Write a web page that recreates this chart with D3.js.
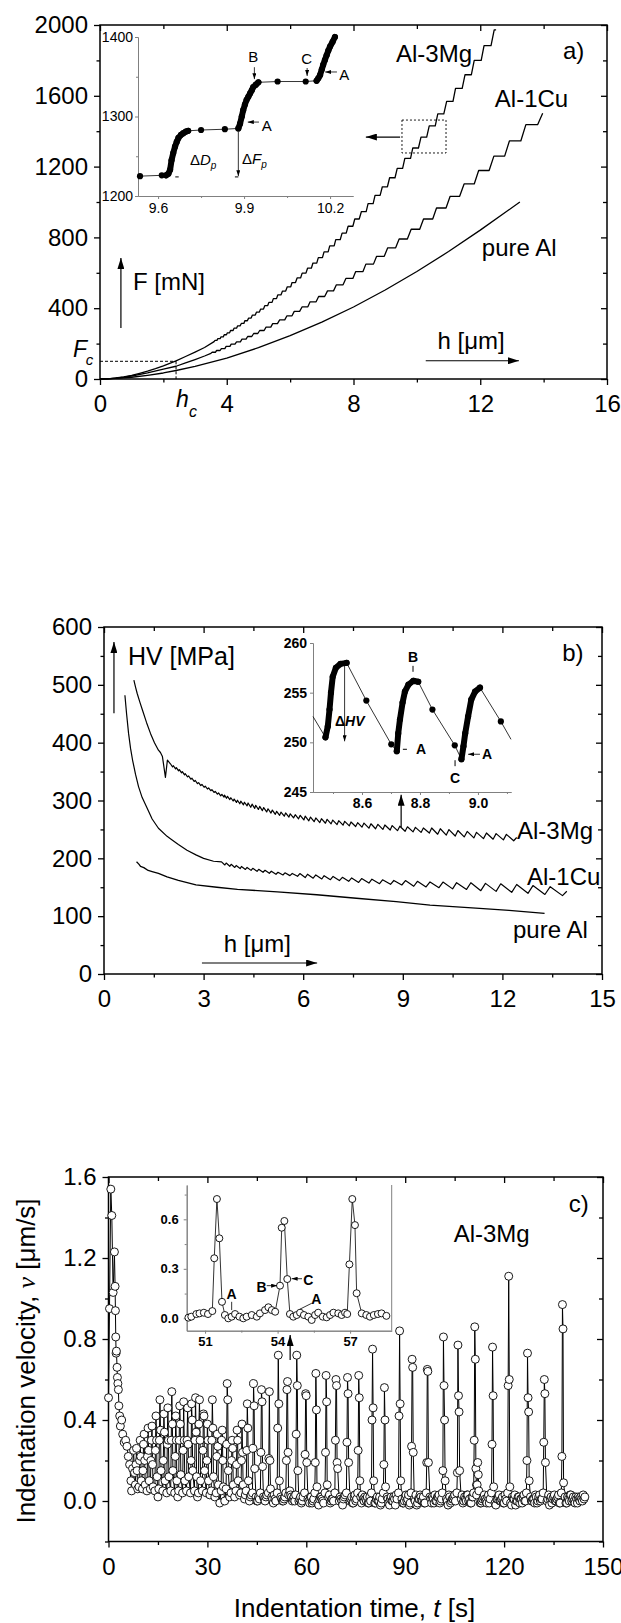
<!DOCTYPE html>
<html>
<head>
<meta charset="utf-8">
<script src="https://cdn.jsdelivr.net/npm/d3@7/dist/d3.min.js"></script>
<style>
  body { margin: 0; background: #fff; }
  svg { display: block; }
</style>
</head>
<body>
<div id="chart"></div>
<script>
// ---------------- a) load F [mN] vs depth h [um] ----------------
var pureAlF = [[0,0],[0.5,3],[1,10],[1.5,21],[2,34],[2.4,48],[3,71],[4,118],[5,177],[6,245],[7,321],[8,407],[9,503],[10,607],[11,720],[12,841],[13.25,1000]];

var cuFStart = [[0,0],[0.25,1],[0.5,5],[0.75,10],[1,17],[1.5,34],[2,56],[2.4,72],[2.7,91],[3,110],[3.3,130],[3.5,145]];
// plateaus: [h start, h end, F]
var cuFSteps = [[3.54,3.64,151],[3.68,3.79,161],[3.83,3.94,172],[3.98,4.10,184],[4.14,4.26,197],[4.31,4.43,210],
  [4.48,4.61,225],[4.66,4.79,240],[4.85,4.98,257],[5.04,5.18,274],[5.24,5.39,293],[5.45,5.60,313],[5.67,5.83,334],
  [5.90,6.06,357],[6.13,6.30,382],[6.38,6.56,408],[6.63,6.82,436],[6.90,7.09,466],[7.18,7.37,498],[7.46,7.67,532],
  [7.76,7.98,568],[8.07,8.30,607],[8.39,8.63,649],[8.73,8.97,693],[9.08,9.33,741],[9.44,9.70,791],[9.82,10.09,846],
  [10.21,10.50,904],[10.62,10.92,966],[11.05,11.35,1032],[11.49,11.81,1102],[11.95,12.28,1178],[12.43,12.77,1259],
  [12.92,13.28,1345],[13.44,13.81,1437]];
var cuFEnd = [13.97,1501];

var mgFStart = [[0,0],[0.25,1],[0.5,6],[0.75,12],[1,21],[1.25,32],[1.5,44],[1.75,58],[2,74],[2.4,102],[2.7,127],[3,152],[3.3,178],[3.6,211]];
var mgFSteps = [[3.63,3.69,218],[3.72,3.79,228],[3.82,3.89,238],[3.92,3.99,250],[4.02,4.09,261],[4.12,4.20,274],
  [4.23,4.31,287],[4.34,4.42,300],[4.46,4.54,314],[4.57,4.65,329],[4.69,4.77,344],[4.81,4.90,361],[4.94,5.03,378],
  [5.07,5.16,395],[5.20,5.29,414],[5.33,5.43,433],[5.47,5.57,454],[5.61,5.71,475],[5.76,5.86,497],[5.91,6.02,521],
  [6.06,6.17,545],[6.22,6.33,571],[6.38,6.50,598],[6.55,6.67,626],[6.72,6.84,655],[6.89,7.02,686],[7.07,7.20,718],
  [7.25,7.39,752],[7.44,7.58,787],[7.64,7.77,824],[7.83,7.98,863],[8.04,8.18,904],[8.25,8.40,946],[8.46,8.62,991],
  [8.68,8.84,1037],[8.91,9.07,1086],[9.14,9.31,1137],[9.38,9.55,1190],[9.62,9.80,1246],[9.87,10.05,1305],
  [10.13,10.31,1366],[10.39,10.58,1430],[10.66,10.85,1498],[10.94,11.14,1568],[11.22,11.43,1642],[11.52,11.72,1719],
  [11.81,12.03,1800],[12.12,12.34,1884],[12.44,12.50,1973]];

// inset a: zoom of the Al-3Mg staircase (h, F)
var insetASegs = [
  ["dots", [[9.537,1225],[9.613,1226]]],
  ["rise", [[9.628,1226],[9.636,1228],[9.642,1233],[9.647,1245],[9.653,1254],[9.659,1262],[9.665,1268],[9.671,1273],[9.68,1277],[9.688,1279],[9.697,1281],[9.705,1282]]],
  ["dots", [[9.75,1283],[9.833,1284]]],
  ["rise", [[9.88,1285],[9.886,1291],[9.892,1300],[9.897,1308],[9.903,1315],[9.909,1321],[9.915,1325],[9.921,1329],[9.927,1333],[9.932,1337],[9.941,1340],[9.95,1343]]],
  ["dots", [[10.017,1344],[10.115,1344]]],
  ["rise", [[10.153,1345],[10.159,1348],[10.165,1352],[10.171,1359],[10.176,1365],[10.182,1371],[10.188,1377],[10.194,1383],[10.2,1388],[10.209,1394],[10.217,1400]]]
];

// ---------------- b) hardness HV [MPa] vs depth ----------------
var pureAlHV = [[0.98,194],[1.05,190],[1.1,186],[1.2,184],[1.33,179],[1.45,177],[1.64,174],[1.9,168],[2.24,162],[2.77,154],
  [3.4,150],[4.02,146.5],[5.22,142],[6.41,137],[7.6,131],[8.8,125],[9.82,119],[11.2,114],[12.2,110],[13.27,105]];

var cuHVStart = [[0.63,482],[0.68,450],[0.74,416],[0.8,390],[0.86,370],[0.95,345],[1.04,324],[1.15,305],[1.28,289],[1.45,268],
  [1.64,252],[1.9,238],[2.0,234],[2.24,224],[2.5,214],[2.77,206],[3.0,200],[3.3,195]];
// teeth: [h peak, HV peak, h trough, HV trough]
var cuHVTeeth = [[3.54,193.9,3.64,188.5],[3.68,191.9,3.79,186.3],[3.83,189.7,3.94,184.2],[3.98,187.6,4.10,182.3],
  [4.14,185.9,4.26,180.8],[4.31,184.3,4.43,179.2],[4.48,182.8,4.61,177.6],[4.66,181.1,4.79,175.9],[4.85,179.4,4.98,174.2],
  [5.04,177.7,5.18,172.4],[5.24,175.9,5.39,171.2],[5.45,174.9,5.60,170.1],[5.67,173.8,5.83,169.0],[5.90,173.6,6.06,166.8],
  [6.13,172.5,6.30,165.6],[6.38,171.2,6.56,164.3],[6.63,170.0,6.82,163.0],[6.90,168.6,7.09,161.6],[7.18,167.2,7.37,160.2],
  [7.46,166.2,7.67,158.3],[7.76,165.0,7.98,157.2],[8.07,163.9,8.30,156.2],[8.39,162.9,8.63,155.1],[8.73,161.7,8.97,153.9],
  [9.08,161.5,9.33,151.7],[9.44,160.3,9.70,150.5],[9.82,159.1,10.09,149.3],[10.21,159.0,10.50,147.2],[10.62,157.9,10.92,146.2],
  [11.05,157.8,11.35,144.1],[11.49,156.7,11.81,142.9],[11.95,156.0,12.28,141.2],[12.43,154.8,12.77,139.5],
  [12.92,152.9,13.28,137.5],[13.44,151.0,13.81,135.5]];
var cuHVEnd = [13.94,143];

var mgHVStart = [[0.9,508],[0.95,496],[1.0,485],[1.08,470],[1.16,456],[1.28,435],[1.4,416],[1.52,400],[1.64,387],[1.7,383],
  [1.76,376],[1.85,340],[1.91,370]];
var mgHVTeeth = [[2.00,363.5,2.065,358],[2.09,360.1,2.155,354.6],[2.18,356.8,2.245,351.3],[2.27,353.3,2.335,347.8],
  [2.36,349.8,2.425,344.3],[2.45,346.3,2.515,340.8],[2.55,342.4,2.615,336.9],[2.65,338.5,2.715,333],[2.75,334.6,2.815,329.1],
  [2.85,330.9,2.915,325.9],[2.95,327.9,3.015,322.9],[3.05,324.9,3.115,319.9],[3.15,321.9,3.215,316.9],[3.25,318.9,3.315,313.9],
  [3.35,315.9,3.415,310.9],[3.45,313,3.515,308],[3.55,310.7,3.615,305.7],
  [3.63,309.3,3.69,303.9],[3.72,307.2,3.79,301.6],[3.82,304.8,3.89,299.1],[3.92,302.4,3.99,296.7],[4.02,300.5,4.09,294.3],
  [4.12,298.8,4.20,292.5],[4.23,297.0,4.31,290.7],[4.34,295.7,4.42,288.3],[4.46,293.7,4.54,286.3],[4.57,291.8,4.65,284.5],
  [4.69,289.8,4.77,282.5],[4.81,287.8,4.90,280.3],[4.94,285.7,5.03,278.2],[5.07,283.5,5.16,276.0],[5.20,281.3,5.29,274.3],
  [5.33,279.9,5.43,272.8],[5.47,278.4,5.57,271.4],[5.61,277.0,5.71,270.0],[5.76,275.5,5.86,268.4],[5.91,274.4,6.02,266.3],
  [6.06,272.9,6.17,264.8],[6.22,271.3,6.33,263.3],[6.38,269.8,6.50,261.9],[6.55,268.5,6.67,260.7],[6.72,267.4,6.84,259.6],
  [6.89,266.2,7.02,258.4],[7.07,265.1,7.20,257.3],[7.25,264.0,7.39,256.2],[7.44,262.9,7.58,255.0],[7.64,261.7,7.77,253.9],
  [7.83,261.0,7.98,252.1],[8.04,259.8,8.18,251.1],[8.25,258.8,8.40,250.0],[8.46,257.7,8.62,248.9],[8.68,256.6,8.84,247.8],
  [8.91,255.5,9.07,246.8],[9.14,254.5,9.31,245.8],[9.38,253.5,9.55,244.8],[9.62,252.5,9.80,243.8],[9.87,252.5,10.05,241.7],
  [10.13,251.2,10.31,240.2],[10.39,249.7,10.58,238.6],[10.66,248.1,10.85,237.0],[10.94,246.5,11.14,235.3],
  [11.22,244.9,11.43,234.1],[11.52,243.8,11.72,233.1],[11.81,242.7,12.03,231.9],[12.12,241.4,12.34,230.4]];
var mgHVEnd = [12.43,236];

// inset b (h, HV)
var insetBSegs = [
  ["line", [[8.431,252.6]]],
  ["rise", [[8.474,250.5],[8.482,251.6],[8.488,253.3],[8.493,255.0],[8.499,256.6],[8.51,257.5],[8.526,257.9],[8.547,258.0]]],
  ["dots", [[8.615,254.2],[8.701,249.8]]],
  ["rise", [[8.72,249.1],[8.725,250.9],[8.731,252.3],[8.74,254.0],[8.748,255.1],[8.76,255.8],[8.777,256.2],[8.794,256.1]]],
  ["dots", [[8.843,253.3],[8.92,249.7]]],
  ["rise", [[8.943,248.3],[8.95,249.6],[8.956,250.9],[8.966,252.6],[8.977,254.3],[8.99,255.1],[9.007,255.5]]],
  ["dots", [[9.079,252.1]]],
  ["line", [[9.114,250.3]]]
];

// ---------------- c) indentation velocity v [um/s] vs time t [s] ----------------
var velDecay = [[0,.51],[0.3,.95],[0.7,1.54],[1.0,1.41],[1.4,1.03],[1.8,1.23],[2.0,1.06],[2.1,.94],[2.2,.81],[2.3,.73],
  [2.4,.74],[2.6,.66],[2.7,.61],[2.85,.58],[3.0,.55],[3.15,.47],[3.4,.42],[3.6,.37],[4.0,.40],[4.3,.33],[4.8,.29],
  [5.2,.30],[5.6,.27],[6.0,.22],[6.4,.18],[6.8,.10],[7.0,.05],[7.3,.16],[7.6,.25],[7.9,.14]];
var sampleDt = 0.17;
// spikes: [time of peak, consecutive samples]
var earlySpikes = [[8.5,[.08,.18,.26,.15,.06]],[9.6,[.07,.2,.3,.22,.1]],[10.8,[.06,.15,.28,.33,.2,.08]],[12.0,[.05,.22,.36,.25,.1]],
  [13.2,[.06,.2,.3,.37,.18,.07]],[14.4,[.05,.25,.42,.3,.12]],[15.6,[.06,.3,.5,.35,.15]],[16.8,[.05,.2,.43,.34,.1]],
  [18.0,[.04,.28,.46,.3,.12]],[19.2,[.05,.3,.54,.38,.15]],[20.4,[.04,.22,.42,.3,.1]],[21.6,[.05,.3,.47,.38,.13]],
  [22.8,[.04,.25,.49,.3,.1]],[24.0,[.05,.3,.46,.28,.12]],[25.2,[.04,.2,.48,.4,.15]],[26.4,[.05,.3,.51,.34,.12]],
  [27.6,[.04,.38,.5,.3,.1]],[28.8,[.05,.25,.43,.42,.15]],[30.0,[.04,.2,.38,.3,.1]],[31.5,[.05,.3,.5,.36,.12]],
  [33.0,[.04,.22,.33,.27,.08]],[34.5,[.05,.3,.35,.2,.07]],[36.0,[.06,.28,.58,.5,.15]],[37.5,[.04,.2,.3,.26,.08]],
  [39.0,[.05,.18,.35,.3,.1]],[40.5,[.04,.2,.38,.24,.08]],[42.1,[.05,.25,.48,.36,.1]]];
var mainSpikes = [[44.0,[.04,.26,.58,.47,.16]],[46.4,[.04,.24,.55,.49,.17]],[48.8,[.04,.21,.54,.2,.06]],
  [51.5,[.04,.36,.72,.48,.10]],[54.3,[.04,.2,.55,.59,.24,.03]],[57.1,[.03,.33,.72,.57,.15]],[59.8,[.04,.23,.53,.52,.19]],
  [62.9,[.04,.19,.63,.45,.07]],[66.0,[.04,.24,.62,.49,.08]],[69.0,[.04,.3,.6,.57,.19,.16]],[72.5,[.04,.29,.61,.53,.19]],
  [75.9,[.04,.25,.62,.51,.1]],[80.1,[.04,.4,.75,.46,.1]],[83.7,[.04,.18,.56,.4,.07]],[88.3,[.04,.42,.84,.48,.1]],
  [92.1,[.04,.27,.7,.66,.24]],[96.7,[.04,.19,.65,.64,.19]],[101.6,[.04,.15,.81,.57,.4,.1]],[106.0,[.04,.14,.77,.52,.44,.15]],
  [111.1,[.04,.3,.86,.7,.16,.08]],[112.0,[.03,.08,.19,.13,.05]],[116.5,[.04,.28,.76,.52,.07]],[121.4,[.04,.57,1.11,.6,.07]],
  [127.1,[.04,.2,.73,.51,.44,.1]],[132.2,[.04,.29,.6,.53,.19]],[137.7,[.04,.22,.97,.85,.09]]];
// baseline between events: two interleaved runs every 0.5 s (from t = 8 s and t = 8.25 s)
var baseStart = 8, baseStep = 0.5;
var baseV = [.10,.08,.09,.06,.07,.05,.06,.04,.05,.03,.04,.03,.02,.04,.02,.03,.01,.03,.02,.04,
  .02,.01,.03,.02,.04,.01,.02,.03,.01,.02,.04,.02,.01,.03,.02,.00,.03,.01,.02,.04,
  .02,.01,.03,.00,.02,.01,.03,.02,.00,.02,.03,.01,.02,.00,.03,.01,.02,.03,.00,.02,
  .01,.03,.00,.02,.01,-.01,.02,.03,.00,.01,.02,-.01,.01,.03,.00,.02,.01,-.01,.02,.00,
  .03,.01,.00,.02,-.01,.01,.03,.00,.02,.01,.00,.02,.04,.06,.05,.02,.01,.00,.02,.03,
  .01,-.01,.02,.00,.03,.01,-.01,.02,.00,.01,.03,-.01,.01,.02,.00,-.02,.02,.01,.03,.00,
  .01,-.01,.02,.03,.00,.01,-.02,.02,.01,.00,.03,.01,-.01,.02,.00,.01,-.02,.02,.03,.00,
  .01,.02,-.01,.00,.03,.01,-.01,.02,.00,-.02,.01,.03,.00,.02,-.01,.01,.00,.02,-.02,.01,
  .03,.00,.01,-.01,.02,.00,.03,-.01,.01,.02,.00,-.02,.01,.03,.00,.02,-.01,.01,.00,.02,
  -.01,.01,.03,.00,.02,-.01,.01,.00,.03,.01,-.02,.02,.00,.01,.03,-.01,.02,.00,.01,-.01,
  .02,.00,.03,.01,-.01,.02,.04,.01,.00,.02,-.01,.01,.03,.00,.02,-.01,.01,.00,.02,-.02,
  .01,.03,.00,.02,-.01,.01,.00,.03,-.01,.02,.01,-.02,.00,.02,.01,-.01,.03,.00,.01,-.01,
  .02,.00,.01,.03,-.01,.02,.00,.01,-.02,.02,.00,.03,.01,-.01,.02,.00,.01,.03,-.01,.01,
  .00,.02,-.01,.01,.03,.00,.02,-.01,.01,.02,.00,.01,.03,.02];
var baseStart2 = 8.25;
var baseV2 = [.09,.07,.08,.05,.06,.04,.05,.03,.04,.02,.03,.02,.03,.01,.02,.03,.00,.02,.01,.03,
  .01,.02,.00,.03,.01,.02,-.01,.01,.03,.00,.02,.01,.03,.00,.01,.02,-.01,.02,.00,.01,
  .03,.00,.01,.02,-.01,.03,.00,.01,.02,.00,.01,-.01,.02,.03,.00,.01,-.01,.02,.01,.00,
  .02,-.01,.01,.03,.00,.02,.01,-.02,.01,.00,.03,.01,-.01,.02,.00,.01,.03,-.01,.01,.02,
  .00,.02,-.01,.01,.03,.00,.01,-.02,.02,.00,.01,.03,.05,.04,.03,.00,.02,-.01,.01,.00,
  .02,.00,-.01,.03,.01,.00,.02,-.01,.01,.03,.00,-.02,.02,.01,-.01,.03,.00,.02,-.01,.01,
  .00,.02,.01,-.02,.02,.00,.01,.03,-.01,.01,.00,.02,-.01,.03,.01,.00,.02,-.01,.01,.02,
  .00,-.01,.02,.01,.03,-.01,.01,.00,.02,-.01,.02,.00,.03,.01,-.02,.02,.00,.01,.03,-.01,
  .01,.02,-.01,.00,.03,.01,-.02,.02,.00,.01,.03,-.01,.01,.02,.00,-.01,.02,.03,.00,.01,
  .02,-.01,.00,.02,.03,.00,-.01,.02,.01,.00,.03,-.01,.01,.02,.00,.02,-.02,.01,.03,.00,
  .01,.03,.00,-.01,.02,.01,.03,.00,.02,-.01,.00,.02,.01,-.01,.03,.01,.00,.02,-.01,.01,
  .02,.00,.01,-.01,.03,.00,.02,.01,-.02,.01,.03,.00,.02,-.01,.01,.02,.00,-.01,.02,.03,
  .00,.01,-.01,.02,.00,.03,.01,-.01,.02,.00,.01,-.02,.02,.01,.03,.00,.02,-.01,.00,.02,
  .01,-.01,.02,.00,.03,.01,.00,.02,-.01,.01,.02,.00,.01];

// inset c (t, v)
var insetCPts = [[50.31,.004],[50.43,.01],[50.64,.026],[50.77,.03],[50.95,.034],[51.12,.026],
  [51.3,.044],[51.38,.364],[51.49,.723],[51.59,.485],[51.7,.10],[51.82,.02],
  [51.96,0],[52.1,.01],[52.24,.026],[52.42,.01],[52.58,0],[52.72,.01],[52.93,.02],[53.14,.01],[53.27,.03],[53.48,.05],[53.62,.067],[53.76,.05],[53.9,.04],
  [54.1,.198],[54.17,.549],[54.28,.59],[54.4,.238],[54.51,.026],
  [54.65,.01],[54.79,.02],[54.93,.034],[55.09,.02],[55.27,.01],[55.41,-.01],[55.55,.02],[55.68,.034],[55.87,.01],[56.03,.006],[56.17,.02],[56.31,.034],[56.51,.03],[56.65,.02],[56.79,.034],
  [56.88,.026],[56.97,.327],[57.09,.723],[57.2,.565],[57.27,.152],[57.48,.03],
  [57.67,.02],[57.82,.01],[57.98,.02],[58.15,.026],[58.3,.03],[58.5,.015]];

// ---------------- drawing ----------------
var FONT = '"Liberation Sans", Arial, sans-serif';
var svg = d3.select("#chart").append("svg").attr("width", 621).attr("height", 1623)
  .attr("font-family", FONT);
svg.append("rect").attr("width", 621).attr("height", 1623).attr("fill", "#fff");

var defs = svg.append("defs");
function marker(id, w, h) {
  defs.append("marker").attr("id", id)
    .attr("viewBox", "0 0 10 10").attr("refX", 10).attr("refY", 5)
    .attr("markerWidth", w).attr("markerHeight", h)
    .attr("markerUnits", "userSpaceOnUse").attr("orient", "auto")
    .attr("preserveAspectRatio", "none")
    .append("path").attr("d", "M0,0L10,5L0,10z").attr("fill", "#000");
}
marker("arr", 11, 7);
marker("arrS", 6, 4);

var none = function() { return ""; };

function mainAxes(g, x, y, o) {
  var xl = x.range()[0], xr = x.range()[1], yb = y.range()[0], yt = y.range()[1];
  function style(sel) {
    sel.select(".domain").remove();
    sel.attr("font-family", FONT).attr("font-size", 24);
    sel.selectAll(".tick line").attr("stroke", "#000").attr("stroke-width", 1.3);
    sel.selectAll(".tick text").attr("fill", "#000");
  }
  g.append("g").attr("transform", "translate(0," + yb + ")")
    .call(d3.axisBottom(x).tickValues(o.xMajor).tickFormat(o.xFmt).tickSizeInner(6).tickSizeOuter(0).tickPadding(10)).call(style);
  g.append("g").attr("transform", "translate(0," + yb + ")")
    .call(d3.axisBottom(x).tickValues(o.xMinor).tickFormat(none).tickSizeInner(3.5).tickSizeOuter(0)).call(style);
  g.append("g").attr("transform", "translate(" + xl + ",0)")
    .call(d3.axisLeft(y).tickValues(o.yMajor).tickFormat(o.yFmt).tickSizeInner(6).tickSizeOuter(0).tickPadding(6)).call(style);
  g.append("g").attr("transform", "translate(" + xl + ",0)")
    .call(d3.axisLeft(y).tickValues(o.yMinor).tickFormat(none).tickSizeInner(3.5).tickSizeOuter(0)).call(style);
  [[o.xMajor, 6], [o.xMinor, 4]].forEach(function(t) {
    g.append("g").attr("transform", "translate(0," + yt + ")")
      .call(d3.axisTop(x).tickValues(t[0]).tickFormat(none).tickSizeInner(-t[1]).tickSizeOuter(0)).call(style);
  });
  [[o.yMajor, 6], [o.yMinor, 4]].forEach(function(t) {
    g.append("g").attr("transform", "translate(" + xr + ",0)")
      .call(d3.axisRight(y).tickValues(t[0]).tickFormat(none).tickSizeInner(-t[1]).tickSizeOuter(0)).call(style);
  });
  g.append("rect").attr("x", xl).attr("y", yt).attr("width", xr - xl).attr("height", yb - yt)
    .attr("fill", "none").attr("stroke", "#000").attr("stroke-width", 1.5);
}

function insetAxes(g, x, y, o) {
  function style(sel) {
    sel.select(".domain").attr("stroke", "#808080").attr("stroke-width", 1);
    sel.attr("font-family", FONT).attr("font-size", o.fs).attr("font-weight", o.fw);
    sel.selectAll(".tick line").attr("stroke", "#808080");
    sel.selectAll(".tick text").attr("fill", "#000");
  }
  var yb = y.range()[0], xl = x.range()[0];
  g.append("g").attr("transform", "translate(0," + yb + ")")
    .call(d3.axisBottom(x).tickValues(o.xMajor).tickFormat(o.xFmt).tickSizeInner(3).tickSizeOuter(0).tickPadding(o.padX)).call(style);
  g.append("g").attr("transform", "translate(0," + yb + ")")
    .call(d3.axisBottom(x).tickValues(o.xMinor).tickFormat(none).tickSizeInner(2).tickSizeOuter(0)).call(style);
  g.append("g").attr("transform", "translate(" + xl + ",0)")
    .call(d3.axisLeft(y).tickValues(o.yMajor).tickFormat(o.yFmt).tickSizeInner(3).tickSizeOuter(0).tickPadding(o.padY)).call(style);
  g.append("g").attr("transform", "translate(" + xl + ",0)")
    .call(d3.axisLeft(y).tickValues(o.yMinor).tickFormat(none).tickSizeInner(2).tickSizeOuter(0)).call(style);
  if (o.right) {
    g.append("line").attr("x1", x.range()[1]).attr("x2", x.range()[1])
      .attr("y1", y.range()[0]).attr("y2", y.range()[1]).attr("stroke", "#808080");
  }
}

function text(g, x, y, str, o) {
  o = o || {};
  return g.append("text").attr("x", x).attr("y", y).attr("font-size", o.fs || 24)
    .attr("font-weight", o.fw || "normal").attr("font-style", o.fst || "normal")
    .attr("text-anchor", o.anchor || "start").attr("fill", "#000").text(str);
}
function arrow(g, x1, y1, x2, y2, small) {
  g.append("line").attr("x1", x1).attr("y1", y1).attr("x2", x2).attr("y2", y2)
    .attr("stroke", "#000").attr("stroke-width", small ? 0.8 : 1.2)
    .attr("marker-end", small ? "url(#arrS)" : "url(#arr)");
}
function plain(g, x1, y1, x2, y2, w, dash) {
  g.append("line").attr("x1", x1).attr("y1", y1).attr("x2", x2).attr("y2", y2)
    .attr("stroke", "#000").attr("stroke-width", w || 0.8).attr("stroke-dasharray", dash || null);
}
function curve(g, x, y, pts, w) {
  g.append("path").datum(pts).attr("fill", "none").attr("stroke", "#000").attr("stroke-width", w || 1.3)
    .attr("stroke-linejoin", "round")
    .attr("d", d3.line().x(function(d) { return x(d[0]); }).y(function(d) { return y(d[1]); }));
}
function stairs(start, steps, end) {
  var pts = start.slice();
  steps.forEach(function(s) { pts.push([s[0], s[2]], [s[1], s[2]]); });
  if (end) pts.push(end);
  return pts;
}
function teeth(start, rows, end) {
  var pts = start.slice();
  rows.forEach(function(r) { pts.push([r[0], r[1]], [r[2], r[3]]); });
  if (end) pts.push(end);
  return pts;
}
function insetSeries(g, x, y, segs) {
  var all = [];
  segs.forEach(function(s) { all = all.concat(s[1]); });
  curve(g, x, y, all, 0.8);
  segs.forEach(function(s) {
    if (s[0] === "rise") {
      g.append("path").datum(s[1]).attr("fill", "none").attr("stroke", "#000").attr("stroke-width", 6)
        .attr("stroke-linecap", "round").attr("stroke-linejoin", "round")
        .attr("d", d3.line().x(function(d) { return x(d[0]); }).y(function(d) { return y(d[1]); }));
    }
    if (s[0] !== "line") {
      g.selectAll(null).data(s[1]).enter().append("circle")
        .attr("cx", function(d) { return x(d[0]); }).attr("cy", function(d) { return y(d[1]); })
        .attr("r", 3.1).attr("fill", "#000");
    }
  });
}

// ================= panel a =================
var ga = svg.append("g");
var xa = d3.scaleLinear().domain([0, 16]).range([100, 607]);
var ya = d3.scaleLinear().domain([0, 2000]).range([379, 25]);
mainAxes(ga, xa, ya, {
  xMajor: [0, 4, 8, 12, 16], xMinor: [2, 6, 10, 14], xFmt: d3.format("d"),
  yMajor: [0, 400, 800, 1200, 1600, 2000], yMinor: [200, 600, 1000, 1400, 1800], yFmt: d3.format("d")
});
curve(ga, xa, ya, pureAlF);
curve(ga, xa, ya, stairs(cuFStart, cuFSteps, cuFEnd));
curve(ga, xa, ya, stairs(mgFStart, mgFSteps, null));

// F_c / h_c guide
plain(ga, xa(0), ya(100), xa(2.4), ya(100), 1, "3,2");
plain(ga, xa(2.4), ya(100), xa(2.4), ya(0), 1, "3,2");
text(ga, xa(-0.85), ya(124), "F", { fs: 23, fst: "italic" });
text(ga, xa(-0.45), ya(78), "c", { fs: 15, fst: "italic" });
text(ga, xa(2.4), ya(-158), "h", { fs: 23, fst: "italic" });
text(ga, xa(2.81), ya(-215), "c", { fs: 16, fst: "italic" });

text(ga, xa(9.34), ya(1791), "Al-3Mg");
text(ga, xa(12.46), ya(1537), "Al-1Cu");
text(ga, xa(12.05), ya(695), "pure Al");
text(ga, xa(14.61), ya(1808), "a)");
text(ga, xa(1.04), ya(503), "F [mN]");
arrow(ga, xa(0.66), ya(288), xa(0.66), ya(684));
text(ga, xa(10.65), ya(169), "h [\u03bcm]");
arrow(ga, xa(10.28), ya(103), xa(13.22), ya(103));
// zoom box and pointer
ga.append("rect").attr("x", xa(9.53)).attr("y", ya(1463)).attr("width", xa(10.92) - xa(9.53))
  .attr("height", ya(1277) - ya(1463)).attr("fill", "none").attr("stroke", "#000")
  .attr("stroke-width", 0.9).attr("stroke-dasharray", "2,2");
arrow(ga, xa(9.47), ya(1367), xa(8.39), ya(1367));

// inset a
var xia = d3.scaleLinear().domain([9.53, 10.28]).range([138, 353]);
var yia = d3.scaleLinear().domain([1200, 1400]).range([196, 37]);
insetAxes(ga, xia, yia, {
  fs: 14, fw: "normal", padX: 4, padY: 2,
  xMajor: [9.6, 9.9, 10.2], xMinor: [9.75, 10.05], xFmt: d3.format(".1f"),
  yMajor: [1200, 1300, 1400], yMinor: [1250, 1350], yFmt: d3.format("d")
});
insetSeries(ga, xia, yia, insetASegs);
text(ga, xia(9.932), yia(1368), "B", { fs: 15, anchor: "middle" });
arrow(ga, xia(9.936), yia(1362), xia(9.936), yia(1347), true);
text(ga, xia(10.118), yia(1366), "C", { fs: 15, anchor: "middle" });
arrow(ga, xia(10.12), yia(1361), xia(10.12), yia(1351), true);
text(ga, xia(10.232), yia(1346), "A", { fs: 15 });
arrow(ga, xia(10.224), yia(1356), xia(10.183), yia(1356), true);
text(ga, xia(9.962), yia(1282), "A", { fs: 15 });
arrow(ga, xia(9.952), yia(1293), xia(9.913), yia(1293), true);
var dd = text(ga, xia(9.711), yia(1239), "\u0394", { fs: 15 });
dd.append("tspan").attr("font-style", "italic").text("D");
dd.append("tspan").attr("font-style", "italic").attr("font-size", 10).attr("dy", 4).text("p");
var df = text(ga, xia(9.893), yia(1240), "\u0394", { fs: 15 });
df.append("tspan").attr("font-style", "italic").text("F");
df.append("tspan").attr("font-style", "italic").attr("font-size", 10).attr("dy", 4).text("p");
arrow(ga, xia(9.88), yia(1281), xia(9.88), yia(1225), true);
plain(ga, xia(9.66), yia(1224), xia(9.672), yia(1224), 1);
plain(ga, xia(9.868), yia(1224), xia(9.88), yia(1224), 1);

// ================= panel b =================
var gb = svg.append("g");
var xb = d3.scaleLinear().domain([0, 15]).range([104, 602]);
var yb = d3.scaleLinear().domain([0, 600]).range([974, 627]);
mainAxes(gb, xb, yb, {
  xMajor: [0, 3, 6, 9, 12, 15], xMinor: [1.5, 4.5, 7.5, 10.5, 13.5], xFmt: d3.format("d"),
  yMajor: [0, 100, 200, 300, 400, 500, 600], yMinor: [50, 150, 250, 350, 450, 550], yFmt: d3.format("d")
});
curve(gb, xb, yb, pureAlHV);
curve(gb, xb, yb, teeth(cuHVStart, cuHVTeeth, cuHVEnd), 1.2);
curve(gb, xb, yb, teeth(mgHVStart, mgHVTeeth, mgHVEnd), 1.2);

text(gb, xb(0.72), yb(534), "HV [MPa]", { fs: 25 });
arrow(gb, xb(0.3), yb(451), xb(0.3), yb(574));
text(gb, xb(3.61), yb(38), "h [\u03bcm]");
arrow(gb, xb(2.95), yb(19), xb(6.42), yb(19));
text(gb, xb(13.8), yb(541), "b)");
text(gb, xb(12.44), yb(233.4), "Al-3Mg");
text(gb, xb(12.74), yb(154), "Al-1Cu");
text(gb, xb(12.32), yb(62), "pure Al");
arrow(gb, xb(8.95), yb(254), xb(8.95), yb(310));

// inset b
var xib = d3.scaleLinear().domain([8.431, 9.114]).range([313, 511]);
var yib = d3.scaleLinear().domain([245, 260]).range([792, 643]);
insetAxes(gb, xib, yib, {
  fs: 14, fw: "bold", padX: 3, padY: 3,
  xMajor: [8.6, 8.8, 9.0], xMinor: [8.5, 8.7, 8.9, 9.1], xFmt: d3.format(".1f"),
  yMajor: [245, 250, 255, 260], yMinor: [], yFmt: d3.format("d")
});
insetSeries(gb, xib, yib, insetBSegs);
text(gb, xib(8.776), yib(258.1), "B", { fs: 14, fw: "bold", anchor: "middle" });
plain(gb, xib(8.776), yib(257.7), xib(8.776), yib(257.1), 1);
text(gb, xib(8.786), yib(248.8), "A", { fs: 14, fw: "bold" });
plain(gb, xib(8.741), yib(249.3), xib(8.755), yib(249.3), 1);
text(gb, xib(8.921), yib(245.9), "C", { fs: 14, fw: "bold", anchor: "middle" });
plain(gb, xib(8.921), yib(248.2), xib(8.921), yib(247.6), 1);
text(gb, xib(9.014), yib(248.3), "A", { fs: 14, fw: "bold" });
arrow(gb, xib(9.007), yib(248.8), xib(8.966), yib(248.8), true);
var dh = text(gb, xib(8.507), yib(251.6), "\u0394", { fs: 14, fw: "bold" });
dh.append("tspan").attr("font-style", "italic").text("HV");
arrow(gb, xib(8.54), yib(257.9), xib(8.54), yib(250.1), true);

// ================= panel c =================
var gc = svg.append("g");
var xc = d3.scaleLinear().domain([0, 150]).range([108.5, 603]);
var yc = d3.scaleLinear().domain([-0.2, 1.6]).range([1541.5, 1177]);
mainAxes(gc, xc, yc, {
  xMajor: [0, 30, 60, 90, 120, 150], xMinor: [15, 45, 75, 105, 135], xFmt: d3.format("d"),
  yMajor: [0, 0.4, 0.8, 1.2, 1.6], yMinor: [-0.2, 0.2, 0.6, 1.0, 1.4], yFmt: d3.format(".1f")
});

var velPts = velDecay.slice();
var spans = [];
earlySpikes.concat(mainSpikes).forEach(function(s) {
  var vals = s[1], top = vals.indexOf(d3.max(vals));
  vals.forEach(function(v, k) { velPts.push([s[0] + (k - top) * sampleDt, v]); });
  spans.push([s[0] - top * sampleDt, s[0] + (vals.length - 1 - top) * sampleDt]);
});
function addBase(start, vals) {
  vals.forEach(function(v, i) {
    var t = start + i * baseStep;
    var near = spans.some(function(sp) { return t > sp[0] - 0.25 && t < sp[1] + 0.25; });
    if (!near) velPts.push([t, v]);
  });
}
addBase(baseStart, baseV);
addBase(baseStart2, baseV2);
velPts.sort(function(a, b) { return a[0] - b[0]; });
curve(gc, xc, yc, velPts, 1);
gc.selectAll(null).data(velPts).enter().append("circle")
  .attr("cx", function(d) { return xc(d[0]); }).attr("cy", function(d) { return yc(d[1]); })
  .attr("r", 4).attr("fill", "#fff").attr("stroke", "#000").attr("stroke-width", 0.9);

text(gc, xc(104.7), yc(1.279), "Al-3Mg");
text(gc, xc(139.6), yc(1.427), "c)");
arrow(gc, xc(55.1), yc(0.696), xc(55.1), yc(0.82));

var xl = text(gc, 354.5, 1617, "Indentation time, ", { fs: 26, anchor: "middle" });
xl.append("tspan").attr("font-style", "italic").text("t");
xl.append("tspan").text(" [s]");
var yl = gc.append("text").attr("transform", "translate(35,1361) rotate(-90)")
  .attr("text-anchor", "middle").attr("font-size", 26).attr("fill", "#000").text("Indentation velocity, ");
yl.append("tspan").attr("font-family", '"Liberation Serif", serif').attr("font-style", "italic").text("\u03bd");
yl.append("tspan").text(" [\u03bcm/s]");

// inset c
var xic = d3.scaleLinear().domain([50.24, 58.72]).range([186.7, 391.7]);
var yic = d3.scaleLinear().domain([-0.075, 0.808]).range([1330.7, 1185]);
insetAxes(gc, xic, yic, {
  fs: 13, fw: "bold", padX: 3, padY: 5,
  xMajor: [51, 54, 57], xMinor: [52.5, 55.5], xFmt: d3.format("d"),
  yMajor: [0, 0.3, 0.6], yMinor: [0.15, 0.45, 0.75], yFmt: d3.format(".1f"), right: true
});
curve(gc, xic, yic, insetCPts, 0.8);
gc.selectAll(null).data(insetCPts).enter().append("circle")
  .attr("cx", function(d) { return xic(d[0]); }).attr("cy", function(d) { return yic(d[1]); })
  .attr("r", 3.5).attr("fill", "#fff").attr("stroke", "#000").attr("stroke-width", 0.9);
text(gc, xic(52.1), yic(0.115), "A", { fs: 14, fw: "bold", anchor: "middle" });
plain(gc, xic(52.1), yic(0.1), xic(52.1), yic(0.05), 0.8);
text(gc, xic(53.34), yic(0.16), "B", { fs: 14, fw: "bold", anchor: "middle" });
arrow(gc, xic(53.55), yic(0.198), xic(53.98), yic(0.198), true);
text(gc, xic(55.27), yic(0.2), "C", { fs: 14, fw: "bold", anchor: "middle" });
arrow(gc, xic(55.01), yic(0.24), xic(54.58), yic(0.24), true);
text(gc, xic(55.6), yic(0.085), "A", { fs: 14, fw: "bold", anchor: "middle" });
plain(gc, xic(55.41), yic(0.091), xic(54.93), yic(0.056), 0.8);
</script>
</body>
</html>
